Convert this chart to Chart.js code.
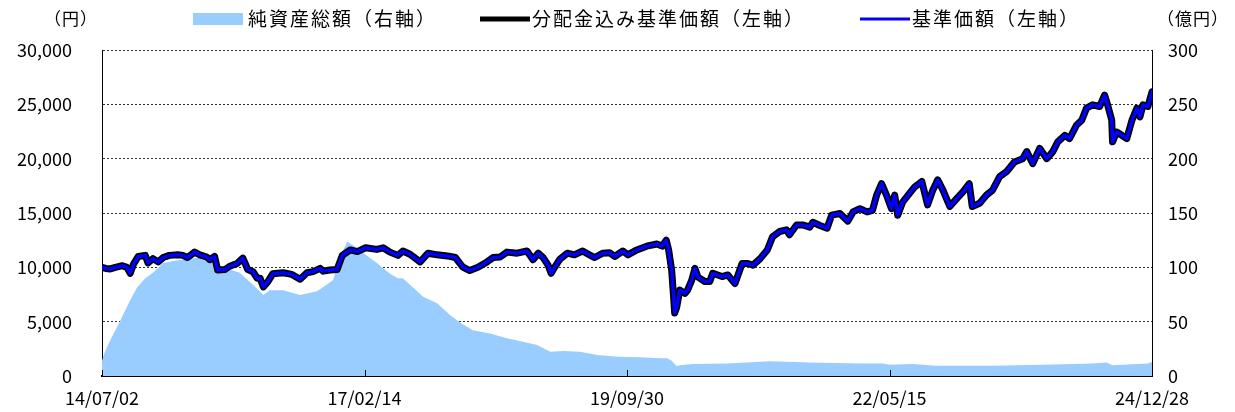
<!DOCTYPE html>
<html><head><meta charset="utf-8">
<script src="https://cdn.jsdelivr.net/npm/chart.js@4/dist/chart.umd.min.js"></script>
<style>html,body{margin:0;padding:0;background:#fff;overflow:hidden}</style>
</head><body>
<canvas id="c" width="1235" height="412"></canvas>
<script>
// ---- data ----
const startDate = '2014-07-02';
const endDate = '2024-12-28';
const xTickDates = ['2014-07-02','2017-02-14','2019-09-30','2022-05-15','2024-12-28'];

const seriesLabels = ['純資産総額（右軸）','分配金込み基準価額（左軸）','基準価額（左軸）'];
const leftAxisTitle = '（円）';
const rightAxisTitle = '（億円）';

const navDates = ['2014-07-02','2014-07-16','2014-08-01','2014-08-20','2014-09-14','2014-10-01','2014-10-13','2014-10-25','2014-11-11','2014-12-07','2014-12-17',
'2015-01-04','2015-01-23','2015-02-10','2015-03-05','2015-04-05','2015-04-23','2015-05-10','2015-06-05','2015-06-24','2015-07-19','2015-07-30','2015-08-17','2015-08-28','2015-09-24','2015-10-11','2015-11-07','2015-11-28','2015-12-16',
'2016-01-04','2016-01-19','2016-01-30','2016-02-11','2016-02-25','2016-03-16','2016-04-23','2016-05-25','2016-06-24','2016-07-19','2016-08-10','2016-09-05','2016-09-16','2016-10-11','2016-11-06','2016-11-25','2016-12-24',
'2017-01-19','2017-02-18','2017-03-31','2017-04-23','2017-05-18','2017-06-16','2017-07-04','2017-07-30','2017-09-05','2017-10-04','2017-11-06','2017-12-13',
'2018-01-12','2018-02-07','2018-03-05','2018-04-04','2018-05-07','2018-05-29','2018-06-24','2018-07-19','2018-08-25','2018-09-30','2018-10-22','2018-11-10','2018-11-28','2018-12-16','2018-12-27',
'2019-01-10','2019-01-28','2019-02-24','2019-03-22','2019-04-21','2019-05-16','2019-06-04','2019-07-03','2019-07-29','2019-08-16','2019-09-15','2019-10-03','2019-11-05','2019-12-11',
'2020-01-17','2020-02-05','2020-02-20','2020-02-29','2020-03-11','2020-03-18','2020-03-22','2020-03-29','2020-04-10','2020-04-28','2020-05-08','2020-05-23','2020-06-04','2020-06-15','2020-07-10','2020-07-28','2020-08-08','2020-09-11','2020-10-02','2020-10-28','2020-11-23','2020-12-14',
'2021-01-02','2021-01-28','2021-02-23','2021-03-14','2021-04-09','2021-05-04','2021-05-15','2021-06-10','2021-07-02','2021-07-28','2021-08-08','2021-09-03','2021-09-29','2021-10-16','2021-11-15','2021-12-14',
'2022-01-02','2022-01-27','2022-02-22','2022-03-14','2022-03-29','2022-04-16','2022-05-04','2022-05-22','2022-06-03','2022-06-14','2022-07-02','2022-07-27','2022-08-15','2022-09-10','2022-10-01','2022-10-20','2022-11-07','2022-11-26','2022-12-21',
'2023-01-16','2023-02-07','2023-03-02','2023-03-13','2023-04-09','2023-05-04','2023-05-26','2023-06-21','2023-07-16','2023-08-14','2023-09-13','2023-09-28','2023-10-20','2023-11-14','2023-12-10',
'2024-01-01','2024-01-19','2024-02-14','2024-03-02','2024-03-28','2024-04-16','2024-05-03','2024-05-25','2024-06-20','2024-07-08','2024-07-19','2024-08-03','2024-08-06','2024-08-21','2024-09-09','2024-09-27','2024-10-16','2024-11-03','2024-11-14','2024-11-25','2024-12-13','2024-12-28'];

// 基準価額（円）
const navValues = [10000,9900,9850,10000,10150,10000,9450,10300,11000,11100,10400,
10800,10500,10900,11100,11150,11100,10900,11400,11150,10950,10700,11000,9750,9800,10100,10350,10850,9800,
9600,9000,9000,8200,8600,9400,9500,9350,8900,9500,9600,9900,9650,9750,9800,11100,11600,
11450,11800,11650,11800,11400,11100,11500,11200,10500,11300,11150,11050,
10900,10050,9700,10000,10500,10900,10950,11400,11300,11500,10700,11300,10900,10200,9450,
10050,10750,11300,11150,11500,11150,10900,11300,11350,11000,11500,11150,11600,11950,
12150,11950,12500,11600,9750,7300,5800,6300,7900,7600,7900,8800,9900,9100,8700,8700,9450,9150,9300,8500,10350,10350,
10200,10800,11600,12800,13300,13450,13000,13900,13900,13700,14150,13850,13600,14800,14950,14250,
15100,15400,15100,15250,16650,17700,16650,15400,16650,14800,16000,16800,17400,17900,15750,17100,18050,17100,15600,
16350,16950,17700,15600,15900,16650,17100,18350,18800,19700,20000,20650,19550,20950,20000,
20650,21550,22150,21850,23100,23550,24650,24950,24800,25850,24950,23550,21550,22450,22150,21850,23550,24650,23850,24950,24800,26150];

// 分配金込み基準価額（円）: no distributions paid, so identical to 基準価額
const navReinvestedValues = navValues.slice();

const assetDates = ['2014-07-02','2014-07-09','2014-08-01','2014-09-07','2014-10-13','2014-11-08','2014-12-07',
'2015-01-04','2015-02-10','2015-03-24','2015-05-18','2015-06-24','2015-08-10','2015-09-30','2015-11-17',
'2016-01-04','2016-02-11','2016-03-05','2016-04-23','2016-06-24','2016-08-25','2016-10-22','2016-11-17','2016-12-13',
'2017-01-04','2017-02-11','2017-03-31','2017-05-18','2017-06-16','2017-07-04','2017-07-30','2017-09-16','2017-11-06','2017-12-24',
'2018-01-30','2018-03-16','2018-05-18','2018-07-19','2018-09-16','2018-11-06','2018-12-24',
'2019-02-11','2019-04-11','2019-06-13','2019-08-25','2019-11-17',
'2020-01-28','2020-02-24','2020-03-11','2020-03-29','2020-04-10','2020-05-27','2020-09-29',
'2021-03-03','2021-07-28','2022-01-27','2022-04-20','2022-05-15','2022-08-07','2022-11-03',
'2023-05-26','2023-11-25','2024-05-25','2024-07-15','2024-08-06','2024-12-13','2024-12-28'];

// 純資産総額（億円）
const assetValues = [14,20,33,51,70,82,90,
95,104,106,108,109,104,99,95,
84,74.5,79,79,74.5,78,88,110,123.6,
120,113,104,94,90,90,84,73,67,56,
49,42,39,34.7,31.6,28.5,22.4,
23,22.4,19.3,17.8,17.2,
16.3,16.3,14,9.2,10,11,11.6,
13.5,12.4,11.6,11.6,10.4,11,9.5,
9.5,10.4,11.6,12.4,10,11.6,12.8];

// ---- helpers ----
const DAY = 86400000;
const t0 = Date.parse(startDate);
const toDay = s => (Date.parse(s) - t0) / DAY;
const pad2 = n => String(n).padStart(2, '0');
const fmtDate = v => {
  const d = new Date(t0 + Math.round(v) * DAY);
  return pad2(d.getUTCFullYear() % 100) + '/' + pad2(d.getUTCMonth() + 1) + '/' + pad2(d.getUTCDate());
};
const FONT = '"Noto Sans CJK JP", "Noto Sans", sans-serif';

const colors = { area: '#99CCFF', reinvested: '#000000', nav: '#0000FF' };

const pts = (dates, vals) => dates.map((d, i) => ({ x: toDay(d), y: vals[i] }));

const legendPlugin = {
  id: 'customLegend',
  afterDraw(chart) {
    const ctx = chart.ctx;
    ctx.save();
    ctx.font = '19px ' + FONT;
    ctx.letterSpacing = '2px';
    ctx.textBaseline = 'middle';
    const y = 19;
    const items = [
      { kind: 'box', color: colors.area, text: seriesLabels[0], x: 193 },
      { kind: 'line', color: colors.reinvested, width: 5, text: seriesLabels[1], x: 480 },
      { kind: 'line', color: colors.nav, width: 3, text: seriesLabels[2], x: 860 }
    ];
    items.forEach(it => {
      const x = it.x;
      if (it.kind === 'box') {
        ctx.fillStyle = it.color;
        ctx.fillRect(x, y - 6, 50, 12);
      } else {
        ctx.strokeStyle = it.color;
        ctx.lineWidth = it.width;
        ctx.beginPath(); ctx.moveTo(x, y); ctx.lineTo(x + 50, y); ctx.stroke();
      }
      ctx.fillStyle = '#000';
      ctx.textAlign = 'left';
      ctx.fillText(it.text, x + (it.kind === 'box' ? 55 : 52), y);
    });
    // axis titles
    ctx.font = '17px ' + FONT;
    ctx.letterSpacing = '1px';
    ctx.textAlign = 'right';
    ctx.fillText(leftAxisTitle, 98, y);
    ctx.textAlign = 'left';
    ctx.fillText(rightAxisTitle, 1157, y);
    // inner tick marks on x axis
    const xs = chart.scales.x, area = chart.chartArea;
    ctx.strokeStyle = '#000'; ctx.lineWidth = 1;
    xTickDates.forEach(d => {
      const px = Math.round(xs.getPixelForValue(toDay(d))) + 0.5;
      ctx.beginPath(); ctx.moveTo(px, area.bottom); ctx.lineTo(px, area.bottom - 6); ctx.stroke();
    });
    ctx.restore();
  }
};

function fixVertical(width) {
  return s => { s.width = width; s.paddingTop = 0; s.paddingBottom = 0; };
}

function draw() {
  const canvas = document.getElementById('c');
  const c2d = canvas.getContext('2d');
  c2d.letterSpacing = '1px';
  new Chart(canvas, {
    type: 'line',
    data: {
      datasets: [
        { label: seriesLabels[0], data: pts(assetDates, assetValues), yAxisID: 'y1',
          fill: 'origin', backgroundColor: colors.area, borderWidth: 0, borderColor: colors.area,
          pointRadius: 0, tension: 0, order: 3 },
        { label: seriesLabels[1], data: pts(navDates, navReinvestedValues), yAxisID: 'y',
          fill: false, borderColor: colors.reinvested, borderWidth: 7, pointRadius: 0, tension: 0,
          borderJoinStyle: 'round', borderCapStyle: 'round', order: 2 },
        { label: seriesLabels[2], data: pts(navDates, navValues), yAxisID: 'y',
          fill: false, borderColor: colors.nav, borderWidth: 3.5, pointRadius: 0, tension: 0,
          borderJoinStyle: 'round', borderCapStyle: 'round', order: 1 }
      ]
    },
    options: {
      responsive: false, animation: false, events: [],
      layout: { padding: { top: 50, left: 0, right: 0, bottom: 0 }, autoPadding: false },
      plugins: { legend: { display: false }, tooltip: { enabled: false } },
      scales: {
        x: {
          type: 'linear', min: 0, max: toDay(endDate),
          afterBuildTicks: s => { s.ticks = xTickDates.map(d => ({ value: toDay(d) })); },
          afterFit: s => { s.height = 36; },
          ticks: { callback: v => fmtDate(v), autoSkip: false, maxRotation: 0, minRotation: 0,
                   padding: 11, color: '#000', font: { family: FONT, size: 18 } },
          grid: { display: false, drawTicks: false },
          border: { display: true, color: '#000', width: 2 }
        },
        y: {
          position: 'left', min: 0, max: 30000,
          afterFit: fixVertical(102),
          ticks: { stepSize: 5000, padding: 30, color: '#000', font: { family: FONT, size: 18 },
                   callback: v => v.toLocaleString('en-US') },
          grid: { color: '#333', lineWidth: 1, drawTicks: false },
          border: { display: true, color: '#000', width: 1, dash: [2, 2] }
        },
        y1: {
          position: 'right', min: 0, max: 300,
          afterFit: fixVertical(83),
          ticks: { stepSize: 50, padding: 16, color: '#000', font: { family: FONT, size: 18 } },
          grid: { display: false, drawTicks: false },
          border: { display: true, color: '#000', width: 1 }
        }
      }
    },
    plugins: [legendPlugin]
  });
}

if (document.fonts && document.fonts.load) {
  document.fonts.load('18px "Noto Sans CJK JP"', '純資産総額0123').then(draw, draw);
} else { draw(); }
</script>
</body></html>
